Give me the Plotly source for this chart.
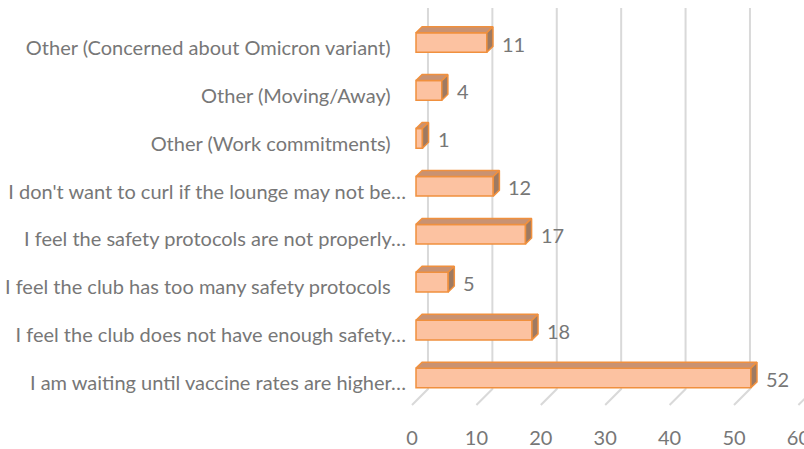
import plotly.graph_objects as go

# ---- data ----
categories = [
    "I am waiting until vaccine rates are higher…",
    "I feel the club does not have enough safety…",
    "I feel the club has too many safety protocols",
    "I feel the safety protocols are not properly…",
    "I don't want to curl if the lounge may not be…",
    "Other (Work commitments)",
    "Other (Moving/Away)",
    "Other (Concerned about Omicron variant)",
]
values = [52, 18, 5, 17, 12, 1, 4, 11]
x_ticks = [0, 10, 20, 30, 40, 50, 60]

# ---- style / 3D geometry (in axis units) ----
BAR_W = 0.41
DEPTH_X = 0.95
DEPTH_Y = 0.125
WALL_X = 1.86
FLOOR_X = -0.62
TOP_Y = 7.72
FLOOR_BACK_Y = -0.23
FLOOR_FRONT_Y = -0.565
FONT = "Lato"
TXT = "#777777"
ORANGE = "#F0903E"
FRONT = "#FCC2A1"
TOPC = "#C99272"
SIDE = "#9E7A62"
PAD = "\u00a0\u00a0\u00a0"   # labels that are not truncated sit a bit further left

idx = list(range(len(categories)))
tick_text = [c if c.endswith("…") else c + PAD for c in categories]

fig = go.Figure()

# front faces
fig.add_trace(go.Bar(
    x=values, y=idx, orientation="h", width=BAR_W,
    marker=dict(color=FRONT, line=dict(color=ORANGE, width=1.5)),
    hoverinfo="skip", showlegend=False,
))

# top and side faces
for i, v in zip(idx, values):
    h = BAR_W / 2
    fig.add_trace(go.Scatter(
        x=[0, v, v + DEPTH_X, DEPTH_X, 0],
        y=[i + h, i + h, i + h + DEPTH_Y, i + h + DEPTH_Y, i + h],
        fill="toself", fillcolor=TOPC, mode="lines",
        line=dict(color=ORANGE, width=1.5), hoverinfo="skip", showlegend=False,
    ))
    fig.add_trace(go.Scatter(
        x=[v, v + DEPTH_X, v + DEPTH_X, v, v],
        y=[i - h, i - h + DEPTH_Y, i + h + DEPTH_Y, i + h, i - h],
        fill="toself", fillcolor=SIDE, mode="lines",
        line=dict(color=ORANGE, width=1.5), hoverinfo="skip", showlegend=False,
    ))
    fig.add_annotation(
        x=v + DEPTH_X, y=i, text=str(v), showarrow=False,
        xanchor="left", xshift=7, yshift=-1,
        font=dict(family=FONT, size=20, color=TXT),
    )

# gridlines (back wall + floor)
for v in x_ticks:
    fig.add_shape(
        type="path",
        path=f"M {v + WALL_X} {TOP_Y} L {v + WALL_X} {FLOOR_BACK_Y} L {v + FLOOR_X} {FLOOR_FRONT_Y}",
        xref="x", yref="y", layer="below",
        line=dict(color="#D9D9D9", width=2),
    )

fig.update_layout(
    width=804, height=449,
    margin=dict(l=400, r=0, t=0, b=39),
    paper_bgcolor="white", plot_bgcolor="white",
    xaxis=dict(
        range=[-2.484, 60.25], showgrid=False, zeroline=False, showline=False,
        tickvals=[v + FLOOR_X for v in x_ticks], ticktext=[str(v) for v in x_ticks],
        ticks="", ticklabelstandoff=14, automargin=False, ticklabeloverflow="allow",
        tickfont=dict(family=FONT, size=20, color=TXT),
    ),
    yaxis=dict(
        range=[-0.668, 7.887], showgrid=False, zeroline=False, showline=False,
        tickvals=[i - 0.11 for i in idx], ticktext=tick_text,
        ticks="", ticklabelstandoff=-7, automargin=False, ticklabeloverflow="allow",
        tickfont=dict(family=FONT, size=20, color=TXT),
    ),
)

fig.write_html("out.html", config={"displayModeBar": False},
               post_script="document.body.style.margin='0';")
